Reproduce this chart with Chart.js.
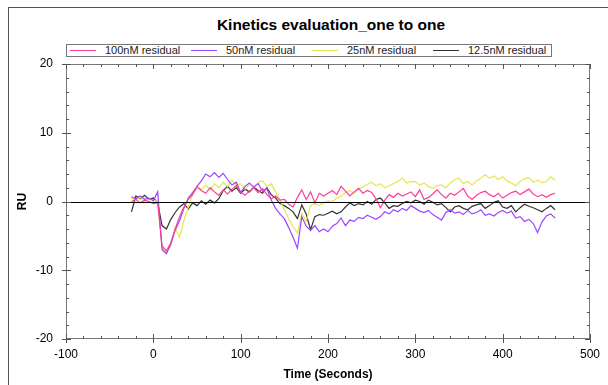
<!DOCTYPE html>
<html>
<head>
<meta charset="utf-8">
<script src="https://cdn.jsdelivr.net/npm/chart.js@4/dist/chart.umd.min.js"></script>
<style>
  html, body { margin:0; padding:0; background:#fff; overflow:hidden; }
  #wrap { position:relative; width:608px; height:385px; font-family:'Liberation Sans', Arial, sans-serif; }
  #frame { position:absolute; left:8px; top:7px; width:640px; height:420px; border:1px solid #555; box-sizing:border-box; }
  #title { position:absolute; left:66px; width:530px; top:16px; text-align:center; font-weight:bold; font-size:15.5px; color:#000; }
  #legend { position:absolute; left:66px; top:44px; width:486px; height:13px; border:1px solid #777; box-sizing:border-box; display:flex; font-size:11px; line-height:11px; color:#222; }
  #legend .item { width:122px; display:flex; align-items:center; }
  #legend .swatch { width:26px; height:0; border-top:1px solid; margin-left:3px; margin-right:9px; }
  canvas { position:absolute; left:0; top:0; }
</style>
</head>
<body>
<div id="wrap">
  <div id="frame"></div>
  <div id="title">Kinetics evaluation_one to one</div>
  <div id="legend"></div>
  <canvas id="kinChart" width="608" height="385"></canvas>
</div>
<script>
/* residual traces at 5 s steps */
const times = [-25,-20,-15,-10,-5,0,5,10,15,20,25,30,35,40,45,50,55,60,65,70,75,80,85,90,95,100,
  105,110,115,120,125,130,135,140,145,150,155,160,165,170,175,180,185,190,195,200,
  205,210,215,220,225,230,235,240,245,250,255,260,265,270,275,280,285,290,295,300,
  305,310,315,320,325,330,335,340,345,350,355,360,365,370,375,380,385,390,395,400,
  405,410,415,420,425,430,435,440,445,450,455,460];

const res100 = [0.0,0.3,-0.2,0.2,0.0,-0.3,-0.2,-6.5,-7.2,-6.0,-4.0,-2.2,-0.8,0.3,1.0,2.2,1.6,1.2,2.0,1.4,0.9,
  1.7,1.1,1.8,2.3,1.4,0.9,1.5,2.0,1.3,1.9,1.0,0.4,0.8,0.2,0.3,-0.4,-0.8,0.6,1.7,0.3,
  1.4,-0.2,1.2,0.8,1.2,1.6,1.0,2.2,1.5,0.8,1.4,1.9,1.2,1.6,1.3,0.4,-0.9,0.2,1.0,0.6,
  1.2,0.8,1.1,1.4,0.7,1.7,0.3,0.6,1.1,1.7,1.0,0.5,1.2,0.9,1.4,1.9,0.8,0.3,0.9,1.3,
  1.5,1.0,0.7,1.2,0.5,0.9,1.3,1.5,1.0,1.4,1.8,1.1,0.7,1.0,0.6,1.0,1.2];

const res50 = [0.7,0.4,0.8,0.3,0.5,0.1,1.4,-7.0,-7.6,-6.2,-4.2,-2.8,-1.0,0.5,1.3,2.2,3.0,4.0,3.6,4.2,3.5,
  4.1,3.2,2.4,2.8,1.3,2.2,2.7,2.1,2.6,1.5,1.9,0.2,-1.0,-1.8,-2.5,-3.8,-5.2,-6.8,-2.2,-3.6,
  -4.2,-3.5,-4.4,-4.0,-4.4,-3.6,-3.2,-2.4,-3.5,-2.7,-2.9,-2.3,-2.5,-2.0,-2.3,-2.6,-2.2,-1.5,-1.8,-1.2,
  -1.5,-1.0,-1.3,-0.6,-1.0,-1.4,-1.6,-1.3,-1.9,-2.3,-2.7,-1.6,-1.2,-1.7,-1.5,-1.9,-1.3,-1.8,-1.6,-1.2,
  -2.0,-1.8,-2.1,-1.6,-1.3,-1.7,-1.4,-2.4,-2.2,-2.9,-2.6,-3.2,-4.5,-3.0,-2.1,-1.8,-2.4];

const res25 = [0.5,0.2,0.6,0.0,0.4,0.2,0.0,-6.8,-7.4,-6.5,-3.8,-5.2,-2.8,-0.8,1.0,1.9,1.8,2.4,1.7,2.6,2.0,
  2.8,2.2,3.1,2.4,2.6,1.8,2.5,2.0,2.8,3.0,2.2,2.6,1.4,0.2,-1.2,-2.5,-3.7,-4.6,-1.7,-2.9,
  -0.6,-0.3,-0.6,-0.2,0.1,0.0,0.5,0.8,1.3,1.6,1.2,1.8,2.1,2.5,2.8,2.3,2.6,2.0,2.3,2.6,
  2.9,3.4,2.7,2.9,2.9,2.4,2.7,2.2,1.9,2.3,2.4,2.0,2.7,3.2,3.4,2.6,2.9,2.4,3.0,3.4,
  3.9,3.4,3.7,3.2,3.6,3.0,2.7,2.3,2.9,3.3,3.5,2.8,3.1,2.7,2.9,3.6,3.1];

const res12 = [-1.5,0.8,0.4,0.9,0.3,0.5,-0.2,-3.5,-4.0,-2.6,-1.6,-0.8,-0.3,-1.1,-0.2,-0.6,0.1,-0.4,0.2,-0.2,0.4,
  1.6,2.2,1.5,2.0,1.2,1.8,1.4,2.1,1.6,1.2,2.0,1.0,0.5,-0.3,-0.6,-1.0,-1.5,-2.5,-0.5,-1.8,
  -4.1,-2.2,-1.9,-2.0,-1.7,-1.4,-1.8,-1.5,-0.8,-0.2,-0.6,-0.3,-0.5,0.0,-0.4,0.3,0.5,-0.2,-1.0,-0.6,
  -0.7,-0.3,0.0,-0.2,0.2,0.0,-0.4,0.2,-0.1,-0.5,-0.3,-0.9,-1.5,-0.8,-0.6,-1.0,-1.2,-0.7,-0.5,-0.3,
  -1.0,-0.6,-0.1,0.1,-0.8,-1.0,-0.6,-1.5,-0.9,-0.4,-0.7,-0.9,-1.2,-1.5,-1.0,-0.6,-1.2];

const seriesLabels = ['100nM residual','50nM residual','25nM residual','12.5nM residual'];
const seriesValues = [res100, res50, res25, res12];
const seriesColors = ['#ff3d98','#9b45ff','#e6e650','#333333'];

const xTicks = [-100, 500, 100];   // min, max, step
const yTicks = [-20, 20, 10];

/* html legend */
const legend = document.getElementById('legend');
seriesLabels.forEach((lbl, i) => {
  const it = document.createElement('div');
  it.className = 'item';
  const sw = document.createElement('span');
  sw.className = 'swatch';
  sw.style.borderTopColor = seriesColors[i];
  const tx = document.createElement('span');
  tx.textContent = lbl;
  it.appendChild(sw);
  it.appendChild(tx);
  legend.appendChild(it);
});

/* frame, inside tick marks and zero line */
const framePlugin = {
  id: 'frame',
  afterDatasetsDraw(chart) {
    const {ctx, chartArea: a, scales: {x, y}} = chart;
    ctx.save();
    ctx.lineWidth = 1;
    ctx.strokeStyle = '#000';
    const y0 = Math.round(y.getPixelForValue(0)) + 0.5;
    ctx.beginPath(); ctx.moveTo(a.left, y0); ctx.lineTo(a.right, y0); ctx.stroke();

    ctx.strokeStyle = '#777';
    ctx.strokeRect(a.left + 0.5, a.top + 0.5, a.right - a.left - 1, a.bottom - a.top - 1);

    ctx.strokeStyle = '#555';
    ctx.beginPath();
    for (let v = xTicks[0]; v <= xTicks[1]; v += 20) {
      const px = Math.round(x.getPixelForValue(v)) + 0.5;
      const major = v % 100 === 0;
      const len = major ? 5 : 3;
      ctx.moveTo(px, a.bottom + (major ? 4 : 0)); ctx.lineTo(px, a.bottom - len);
      ctx.moveTo(px, a.top); ctx.lineTo(px, a.top + len);
    }
    for (let v = yTicks[0]; v <= yTicks[1]; v += 2) {
      const py = Math.round(y.getPixelForValue(v)) + 0.5;
      const major = v % 10 === 0;
      const len = major ? 5 : 3;
      ctx.moveTo(a.left - (major ? 4 : 0), py); ctx.lineTo(a.left + len, py);
      ctx.moveTo(a.right, py); ctx.lineTo(a.right - len, py);
    }
    ctx.stroke();
    ctx.restore();
  }
};

const font = { family: "'Liberation Sans', Arial, sans-serif", size: 12 };

new Chart(document.getElementById('kinChart'), {
  type: 'line',
  data: {
    datasets: seriesLabels.map((lbl, i) => ({
      label: lbl,
      data: times.map((t, k) => ({ x: t, y: seriesValues[i][k] })),
      borderColor: seriesColors[i],
      borderWidth: 1.2,
      pointRadius: 0,
      tension: 0,
      fill: false
    }))
  },
  options: {
    responsive: false,
    animation: false,
    devicePixelRatio: 1,
    layout: { padding: { left: 8, right: 12, top: 64, bottom: 0 } },
    plugins: { legend: { display: false }, title: { display: false }, tooltip: { enabled: false } },
    scales: {
      x: {
        type: 'linear', min: xTicks[0], max: xTicks[1],
        ticks: { stepSize: xTicks[2], color: '#000', font: font, padding: 8, maxRotation: 0 },
        grid: { display: false, drawTicks: false },
        border: { display: false },
        title: { display: true, text: 'Time (Seconds)', color: '#000', font: { ...font, weight: 'bold' }, padding: { top: 0, bottom: 3 } },
        afterFit(s) { s.height = 46; }
      },
      y: {
        type: 'linear', min: yTicks[0], max: yTicks[1],
        ticks: { stepSize: yTicks[2], color: '#000', font: font, padding: 13 },
        grid: { display: false, drawTicks: false },
        border: { display: false },
        title: { display: true, text: 'RU', color: '#000', font: { ...font, weight: 'bold' }, padding: { top: 7, bottom: 0 } },
        afterFit(s) { s.width = 58; }
      }
    }
  },
  plugins: [framePlugin]
});
</script>
</body>
</html>
